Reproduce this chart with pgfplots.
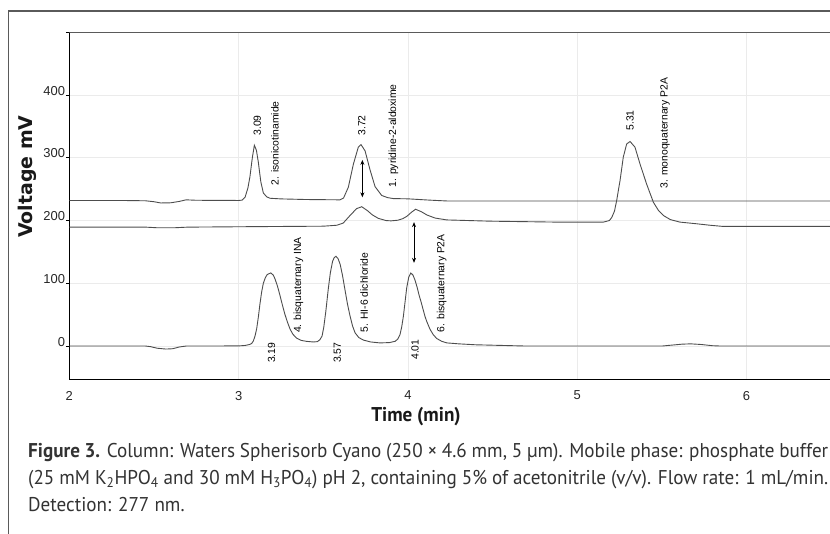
\documentclass[border=0pt]{standalone}
\usepackage{fontspec}
\setmainfont{PT Sans}
\newfontfamily\capf{PT Sans}[FakeStretch=0.96]
\newfontfamily\arialf{Liberation Sans}
\newfontfamily\verdf{DejaVu Sans}
\usepackage{pgfplots}
\pgfplotsset{compat=1.18}
\usetikzlibrary{arrows.meta}
\definecolor{trace}{HTML}{4D4D4D}
\definecolor{gridc}{HTML}{EBEBEB}
\definecolor{framec}{HTML}{5A5A5A}
\definecolor{capc}{HTML}{333333}

\begin{document}
\begin{tikzpicture}
\useasboundingbox[fill=white] (0bp,0bp) rectangle (830bp,534bp);
% figure frame (runs to the image edge)
\draw[framec, line width=1.3bp] (8.8bp,0bp) -- (8.8bp,523bp) -- (830bp,523bp);

\begin{axis}[
    at={(69.3bp,154.7bp)}, anchor=south west,
    scale only axis, width=760.7bp, height=347bp,
    xmin=2, xmax=6.493, ymin=-53, ymax=500,
    axis x line*=bottom, axis y line*=left,
    axis line style={-},
    x axis line style={line width=1.5bp, black},
    y axis line style={line width=1.1bp, black},
    xtick={2,3,4,5,6}, xticklabels={2,3,4,5,6},
    ytick={0,100,200,300,400,500}, yticklabels={0,100,200,300,400,{}},
    grid=major, major grid style={gridc, line width=0.7bp},
    tick align=outside, major tick length=3.5bp,
    xtick style={draw=none},
    ytick style={black, line width=0.8bp},
    tick label style={font=\arialf\fontsize{13}{13}\selectfont, text=black!85},
    xticklabel style={anchor=north, inner sep=0pt, yshift=-8bp},
    yticklabel style={anchor=base east, inner sep=0pt, xshift=-0.5bp},
    clip=true,
]
% top trace
\addplot[trace, line width=0.9bp] coordinates {
(2.00,232) (2.30,232) (2.45,231.5) (2.50,230) (2.54,228) (2.60,228.3) (2.65,230.5)
(2.69,233) (2.75,232.3) (3.00,232) (3.02,232.5) (3.038,237) (3.055,252) (3.067,270)
(3.081,300) (3.093,320) (3.105,312) (3.116,294) (3.131,262) (3.146,244) (3.165,238)
(3.185,235.5) (3.25,234.5) (3.40,233.5) (3.599,233) (3.62,236) (3.648,253) (3.678,290)
(3.707,317) (3.723,321) (3.747,311) (3.776,281) (3.806,254) (3.845,240) (3.88,236.5)
(3.914,235) (4.00,234.6) (4.13,232.5) (4.23,231.2) (6.50,231.2)
};
% middle trace
\addplot[trace, line width=0.9bp] coordinates {
(2.00,189.5) (2.45,189.5) (2.52,188.5) (2.62,188.5) (2.70,189.5) (3.10,190.3)
(3.50,191) (3.58,192.5) (3.618,196) (3.658,208) (3.697,219) (3.727,222) (3.76,216)
(3.79,209) (3.825,203.5) (3.87,200) (3.90,199.5) (3.94,200.5) (3.97,203) (3.995,207)
(4.02,213) (4.045,218) (4.08,214) (4.111,209) (4.16,204) (4.229,201) (4.485,199)
(4.879,197.5) (5.154,197.5) (5.19,200) (5.204,205) (5.22,215) (5.233,232) (5.253,264)
(5.272,301) (5.292,322) (5.312,326) (5.341,317) (5.371,290) (5.41,258) (5.45,229)
(5.48,216) (5.509,208) (5.55,201.5) (5.607,197.5) (5.70,195) (5.784,192.5)
(5.863,190.6) (6.50,190.6)
};
% bottom trace
\addplot[trace, line width=0.9bp] coordinates {
(2.00,0) (2.45,0) (2.48,-1) (2.52,-3.5) (2.57,-4.8) (2.61,-4.3) (2.65,-1.5) (2.69,0)
(3.00,0.2) (3.04,1) (3.065,2.5) (3.077,4) (3.087,8) (3.097,16) (3.107,28) (3.117,47)
(3.126,67) (3.136,86) (3.146,100) (3.158,109) (3.169,114) (3.19,116.5) (3.205,113)
(3.215,107) (3.23,95) (3.245,80) (3.26,64) (3.274,50) (3.29,37) (3.304,27) (3.32,19)
(3.343,12.5) (3.37,9) (3.40,7.5) (3.44,6.5) (3.465,7) (3.48,10) (3.493,16) (3.503,30)
(3.515,55) (3.53,92) (3.542,117) (3.555,135) (3.565,141) (3.575,143) (3.588,139)
(3.60,130) (3.614,112) (3.628,90) (3.643,67) (3.658,48) (3.673,32) (3.688,21)
(3.71,13.5) (3.737,9.5) (3.78,6.5) (3.835,5) (3.89,5.5) (3.924,7.5) (3.94,11)
(3.953,18) (3.963,30) (3.973,47) (3.983,70) (3.993,93) (4.005,110) (4.017,116.5)
(4.03,113) (4.042,105) (4.055,93) (4.065,82) (4.078,70) (4.09,58) (4.10,48) (4.11,40)
(4.13,27) (4.15,18) (4.17,12) (4.20,7.5) (4.23,5) (4.30,3.5) (4.40,2) (4.55,1)
(4.70,0) (5.50,0) (5.56,1.5) (5.62,3) (5.67,3.5) (5.73,2.5) (5.80,0.5) (5.85,0) (6.50,0)
};
% top border of the plot area
\draw[framec, line width=0.9bp] (rel axis cs:0,1) -- (rel axis cs:1,1);
% double arrows
\draw[{Stealth[length=5bp,width=4bp]}-{Stealth[length=5bp,width=4bp]}, line width=0.8bp]
  (axis cs:3.731,296.6) -- (axis cs:3.731,237);
\draw[{Stealth[length=5bp,width=4bp]}-{Stealth[length=5bp,width=4bp]}, line width=0.8bp]
  (axis cs:4.036,197.5) -- (axis cs:4.036,132.6);
% peak annotations
\begin{scope}[every node/.style={rotate=90, anchor=west, inner sep=0pt,
    font=\arialf\fontsize{10.4}{12}\selectfont, text=black}]
\node at (axis cs:3.110,335) {3.09};
\node at (axis cs:3.215,256) {2. isonicotinamide};
\node at (axis cs:3.727,335) {3.72};
\node at (axis cs:3.914,252.6) {1. pyridine-2-aldoxime};
\node at (axis cs:5.312,343) {5.31};
\node at (axis cs:5.519,251) {3. monoquaternary P2A};
\node at (axis cs:3.353,20.7) {4. bisquaternary INA};
\node at (axis cs:3.741,22) {5. HI-6 dichloride};
\node at (axis cs:4.200,22) {6. bisquaternary P2A};
\node at (axis cs:3.195,-27) {3.19};
\node at (axis cs:3.583,-27) {3.57};
\node at (axis cs:4.042,-22) {4.01};
\end{scope}
\end{axis}

% axis titles
\node[rotate=90, anchor=base, font=\verdf\bfseries\fontsize{19}{19}\selectfont, text=black!90]
  at (32.7bp,357.5bp) {Voltage mV};
\node[anchor=base, font=\capf\bfseries\fontsize{20}{20}\selectfont, text=black!90]
  at (416bp,112bp) {Time (min)};

% caption
\node[anchor=north west, text width=800bp, align=justify, inner sep=0pt,
      font=\capf\fontsize{20}{27}\selectfont, text=capc] at (28bp,91bp)
{\textbf{Figure 3.} Column: Waters Spherisorb Cyano (250 × 4.6 mm, 5 µm). Mobile phase: phosphate buffer\linebreak
(25 mM K\textsubscript{2}HPO\textsubscript{4} and 30 mM H\textsubscript{3}PO\textsubscript{4}) pH 2, containing 5\% of acetonitrile (v/v). Flow rate: 1 mL/min.\linebreak
Detection: 277 nm.};
\end{tikzpicture}
\end{document}
